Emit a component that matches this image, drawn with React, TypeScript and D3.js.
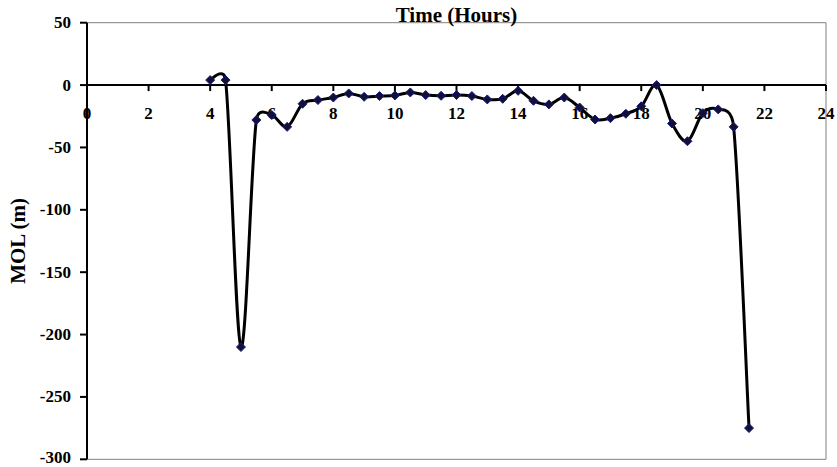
import React from "react";
import * as d3 from "d3";

const hours = [4, 4.5, 5, 5.5, 6, 6.5, 7, 7.5, 8, 8.5, 9, 9.5, 10, 10.5, 11, 11.5, 12, 12.5, 13, 13.5, 14, 14.5, 15, 15.5, 16, 16.5, 17, 17.5, 18, 18.5, 19, 19.5, 20, 20.5, 21, 21.5];
const mol = [4, 4, -210, -28, -24, -33.5, -15, -12, -10, -6.7, -9.4, -8.8, -8.3, -5.9, -8, -8.6, -8, -8.8, -11.5, -11, -4.6, -12.6, -15.5, -10, -18, -27.6, -26.5, -23, -17, 0, -30.8, -45, -22.5, -19.5, -33.5, -275];
const xTicks = [0, 2, 4, 6, 8, 10, 12, 14, 16, 18, 20, 22, 24];
const yTicks = [50, 0, -50, -100, -150, -200, -250, -300];

const W = 837;
const H = 467;
const left = 87;
const right = 826;
const top = 22.7;
const bottom = 459.3;

// Excel-like smoothed line: Catmull-Rom control arms, clamped to the chord length
function smoothPath(p: [number, number][]): string {
  const n = p.length;
  let d = `M${p[0][0]},${p[0][1]}`;
  for (let i = 0; i < n - 1; i++) {
    const p0 = p[Math.max(0, i - 1)];
    const p1 = p[i];
    const p2 = p[i + 1];
    const p3 = p[Math.min(n - 1, i + 2)];
    let a1x = (p2[0] - p0[0]) / 6;
    let a1y = (p2[1] - p0[1]) / 6;
    let a2x = (p3[0] - p1[0]) / 6;
    let a2y = (p3[1] - p1[1]) / 6;
    const chord = Math.hypot(p2[0] - p1[0], p2[1] - p1[1]);
    const l1 = Math.hypot(a1x, a1y);
    const l2 = Math.hypot(a2x, a2y);
    if (l1 + l2 > chord && l1 + l2 > 0) {
      const s = chord / (l1 + l2);
      a1x *= s; a1y *= s; a2x *= s; a2y *= s;
    }
    d += `C${p1[0] + a1x},${p1[1] + a1y},${p2[0] - a2x},${p2[1] - a2y},${p2[0]},${p2[1]}`;
  }
  return d;
}

export default function App() {
  const x = d3.scaleLinear().domain([0, 24]).range([left, right]);
  const y = d3.scaleLinear().domain([-300, 50]).range([bottom, top]);
  const pts: [number, number][] = hours.map((h, i) => [x(h), y(mol[i])]);
  const line = smoothPath(pts);
  const y0 = y(0);
  const font = "'Liberation Serif', 'Times New Roman', serif";
  return (
    <svg width={W} height={H} style={{ position: "absolute", left: 0, top: 0, background: "#fff" }}>
      <rect x={0} y={0} width={W} height={H} fill="#fff" />
      <line x1={left} y1={top} x2={right} y2={top} stroke="#808080" strokeWidth={1} />
      <line x1={right} y1={top} x2={right} y2={bottom} stroke="#808080" strokeWidth={1} />
      <line x1={left} y1={bottom} x2={right} y2={bottom} stroke="#808080" strokeWidth={1} />
      <line x1={left} y1={top} x2={left} y2={bottom} stroke="#000" strokeWidth={2} />
      {yTicks.map((t) => (
        <g key={t}>
          <line x1={left - 7} y1={y(t)} x2={left} y2={y(t)} stroke="#000" strokeWidth={2} />
          <text x={71} y={Math.min(y(t) + 5.5, 463)} textAnchor="end" fontFamily={font} fontWeight="bold" fontSize={17}>
            {t}
          </text>
        </g>
      ))}
      <line x1={left} y1={y0} x2={right} y2={y0} stroke="#000" strokeWidth={2} />
      {xTicks.map((t) => (
        <g key={t}>
          <line x1={x(t)} y1={y0} x2={x(t)} y2={y0 + 6} stroke="#000" strokeWidth={2} />
          <text x={x(t)} y={119} textAnchor="middle" fontFamily={font} fontWeight="bold" fontSize={17}>
            {t}
          </text>
        </g>
      ))}
      <path d={line} fill="none" stroke="#000" strokeWidth={3} strokeLinejoin="round" />
      {pts.map(([px, py], i) => (
        <path
          key={i}
          d={`M${px},${py - 4.5}L${px + 4.5},${py}L${px},${py + 4.5}L${px - 4.5},${py}Z`}
          fill="#10103a"
          stroke="#1c1c7a"
          strokeWidth={1}
        />
      ))}
      <text x={(left + right) / 2} y={22} textAnchor="middle" fontFamily={font} fontWeight="bold" fontSize={21}>
        Time (Hours)
      </text>
      <text
        transform={`translate(25,${(top + bottom) / 2}) rotate(-90)`}
        textAnchor="middle"
        fontFamily={font}
        fontWeight="bold"
        fontSize={21}
      >
        MOL (m)
      </text>
    </svg>
  );
}
